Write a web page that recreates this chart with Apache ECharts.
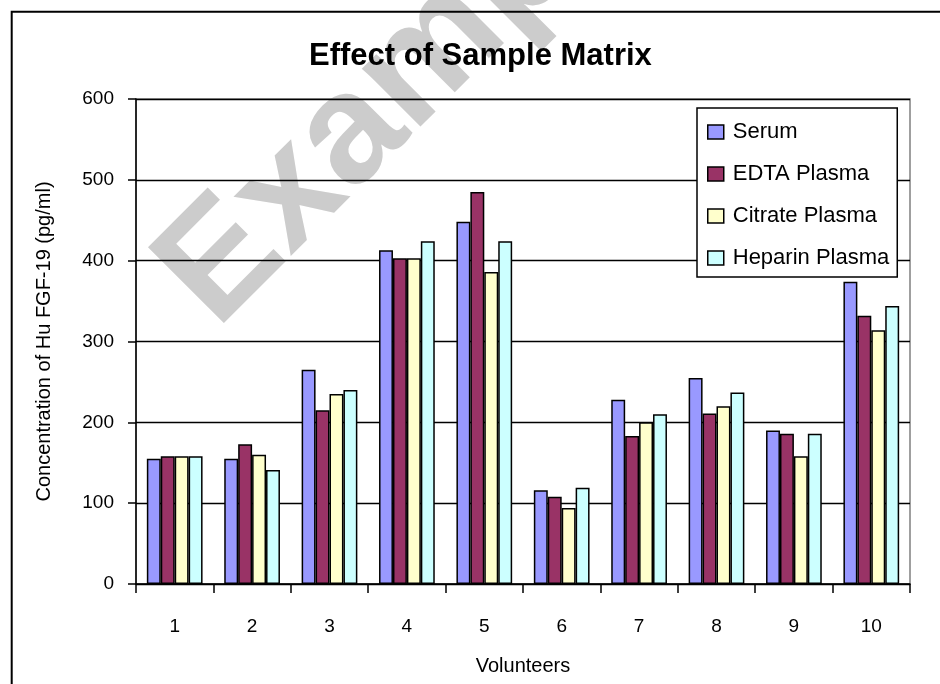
<!DOCTYPE html>
<html>
<head>
<meta charset="utf-8">
<script src="https://cdn.jsdelivr.net/npm/echarts@6/dist/echarts.min.js"></script>
<style>
html,body{margin:0;padding:0;background:#fff;}
#chart{width:940px;height:684px;}
</style>
</head>
<body>
<div id="chart"></div>
<script>
const categories = ['1','2','3','4','5','6','7','8','9','10'];
const serum   = [155, 155, 265, 413, 448, 116, 228, 255, 190, 374];
const edta    = [158, 173, 215, 403, 485, 108, 183, 211, 186, 332];
const citrate = [158, 160, 235, 403, 386,  94, 200, 220, 158, 314];
const heparin = [158, 141, 240, 424, 424, 119, 210, 237, 186, 344];
const yTicks = [0, 100, 200, 300, 400, 500, 600];
const seriesNames = ['Serum', 'EDTA Plasma', 'Citrate Plasma', 'Heparin Plasma'];
const seriesColors = ['#9999FF', '#993366', '#FFFFCC', '#CCFFFF'];

const FONT = 'Liberation Sans, Arial, sans-serif';
const chart = echarts.init(document.getElementById('chart'), null, {renderer: 'canvas'});

const dataSets = [serum, edta, citrate, heparin];
const series = dataSets.map((d, i) => ({
  name: seriesNames[i],
  type: 'bar',
  data: d,
  barGap: '0%',
  barCategoryGap: '28%',
  itemStyle: {color: seriesColors[i], borderColor: '#000', borderWidth: 1.5},
  emphasis: {disabled: true}
}));

chart.setOption({
  animation: false,
  backgroundColor: '#fff',
  title: {
    text: 'Effect of Sample Matrix',
    left: 309, top: 41, padding: 0,
    textStyle: {fontFamily: FONT, fontSize: 31, fontWeight: 'bold', color: '#000'}
  },
  graphic: [
    {
      type: 'text', x: 186, y: 300, rotation: Math.PI / 4, z: -10, silent: true,
      style: {text: 'Example', fill: '#cccccc', font: 'bold 156px ' + FONT, align: 'left', verticalAlign: 'middle'}
    },
    {
      type: 'rect', z: 100, silent: true,
      shape: {x: 11.7, y: 11.7, width: 1000, height: 1000},
      style: {fill: 'none', stroke: '#000', lineWidth: 2}
    }
  ],
  legend: {
    orient: 'vertical',
    left: 697, top: 108,
    padding: [13, 8, 8, 10],
    itemGap: 20,
    itemWidth: 16, itemHeight: 14,
    backgroundColor: '#fff',
    borderColor: '#000', borderWidth: 1.5,
    icon: 'rect',
    itemStyle: {borderColor: '#000', borderWidth: 1.5},
    textStyle: {fontFamily: FONT, fontSize: 22, color: '#000', padding: [0, 0, 0, 4]},
    data: seriesNames,
    selectedMode: false
  },
  grid: {
    left: 136, top: 99, right: 30, bottom: 100,
    show: true, borderColor: '#808080', borderWidth: 1.5, backgroundColor: 'transparent'
  },
  xAxis: {
    type: 'category',
    data: categories,
    name: 'Volunteers',
    nameLocation: 'middle',
    nameGap: 72,
    nameTextStyle: {fontFamily: FONT, fontSize: 20, color: '#000'},
    axisLine: {lineStyle: {color: '#000', width: 1.5}},
    axisTick: {show: true, length: 9, inside: false, alignWithLabel: false, lineStyle: {color: '#000', width: 1.5}},
    axisLabel: {margin: 33, fontFamily: FONT, fontSize: 19, color: '#000'},
    splitLine: {show: false}
  },
  yAxis: {
    type: 'value',
    min: yTicks[0], max: yTicks[yTicks.length - 1], interval: 100,
    name: 'Concentration of Hu FGF-19 (pg/ml)',
    nameLocation: 'middle',
    nameGap: 82,
    nameTextStyle: {fontFamily: FONT, fontSize: 20, color: '#000'},
    axisLine: {show: true, lineStyle: {color: '#000', width: 1.5}},
    axisTick: {show: true, length: 8, inside: false, lineStyle: {color: '#000', width: 1.5}},
    axisLabel: {margin: 22, fontFamily: FONT, fontSize: 19, color: '#000'},
    splitLine: {show: true, lineStyle: {color: '#000', width: 1.3}}
  },
  series: series
});
</script>
</body>
</html>
